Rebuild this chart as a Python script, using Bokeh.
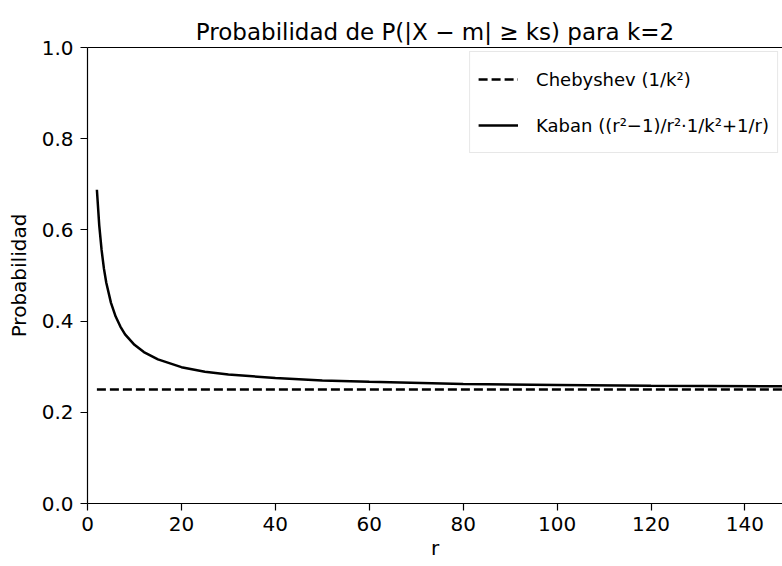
from bokeh.plotting import figure
from bokeh.models import Range1d, LinearAxis, Legend, LegendItem, PrintfTickFormatter, FixedTicker
from bokeh.embed import file_html
from bokeh.resources import INLINE

# Data (k = 2)
r_values = [2, 2.5, 3, 3.5, 4, 5, 6, 7, 8, 10, 12, 15, 20, 25, 30, 40, 50, 60, 80, 100, 120, 148]
kaban_values = [0.688, 0.61, 0.556, 0.515, 0.484, 0.44, 0.410, 0.388, 0.371, 0.348, 0.332, 0.316,
                0.299, 0.289, 0.283, 0.275, 0.270, 0.267, 0.262, 0.260, 0.258, 0.257]
cheb_r = [2, 148]
cheb_values = [0.25, 0.25]
x_ticks = [0, 20, 40, 60, 80, 100, 120, 140]
y_ticks = [0.0, 0.2, 0.4, 0.6, 0.8, 1.0]

FONT = "DejaVu Sans"

p = figure(width=782, height=566, output_backend="svg", toolbar_location=None,
           x_range=Range1d(0, 148), y_range=Range1d(0, 1.0),
           min_border_left=87, min_border_right=0, min_border_top=47, min_border_bottom=63,
           title="Probabilidad de P(|X − m| ≥ ks) para k=2")
p.title.text_font = FONT
p.title.text_font_size = "23px"
p.title.text_font_style = "normal"
p.title.align = "center"
p.title.text_color = "black"
p.title.standoff = 6
p.outline_line_color = None
p.grid.visible = False
p.background_fill_color = "white"
p.border_fill_color = "white"

for ax in (p.xaxis[0], p.yaxis[0]):
    ax.axis_line_color = "black"
    ax.axis_line_width = 1.2
    ax.major_tick_line_color = "black"
    ax.major_tick_line_width = 1.2
    ax.major_tick_out = 7
    ax.major_tick_in = 0
    ax.minor_tick_line_color = None
    ax.major_label_text_font = FONT
    ax.major_label_text_font_size = "20px"
    ax.major_label_text_color = "black"
    ax.axis_label_text_font = FONT
    ax.axis_label_text_font_size = "20px"
    ax.axis_label_text_font_style = "normal"
    ax.axis_label_text_color = "black"

p.xaxis.ticker = FixedTicker(ticks=x_ticks)
p.yaxis.ticker = FixedTicker(ticks=y_ticks)
p.yaxis.formatter = PrintfTickFormatter(format="%.1f")
p.xaxis.axis_label = "r"
p.yaxis.axis_label = "Probabilidad"
p.xaxis.major_label_standoff = 6
p.yaxis.major_label_standoff = 7
p.xaxis.axis_label_standoff = 2
p.yaxis.axis_label_standoff = 8

top = LinearAxis(ticker=FixedTicker(ticks=[]), major_label_text_font_size="0px",
                 axis_line_color="black", axis_line_width=1.2,
                 major_tick_line_color=None, minor_tick_line_color=None)
p.add_layout(top, "above")

cheb = p.line(cheb_r, cheb_values, line_color="black", line_width=2.5, line_dash="9 4")
kab = p.line(r_values, kaban_values, line_color="black", line_width=2.5)

legend = Legend(items=[LegendItem(label="Chebyshev (1/k²)", renderers=[cheb]),
                       LegendItem(label="Kaban ((r²−1)/r²·1/k²+1/r)", renderers=[kab])],
                location="top_right")
legend.label_text_font = FONT
legend.label_text_font_size = "18px"
legend.label_text_color = "black"
legend.border_line_color = "#d0d0d0"
legend.border_line_width = 1.2
legend.background_fill_alpha = 0.8
legend.glyph_width = 40
legend.label_standoff = 18
legend.label_height = 38
legend.glyph_height = 20
legend.spacing = 8
legend.padding = 8
legend.margin = 4
p.add_layout(legend)

open("out.html", "w").write(file_html(p, INLINE))
